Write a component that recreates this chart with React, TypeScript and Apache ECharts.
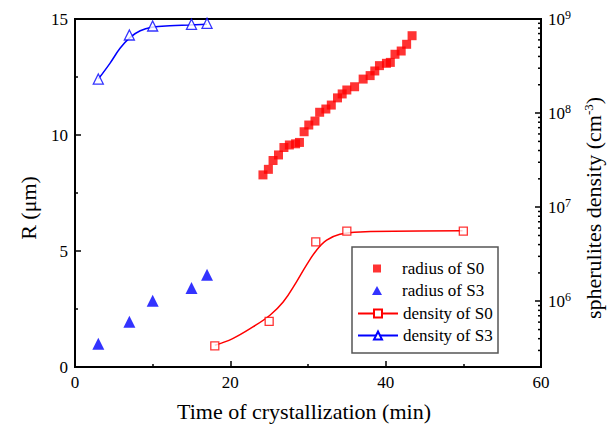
import React, { useEffect, useRef } from "react";
import * as echarts from "echarts";

// radius of S0 (left axis, μm)
const s0RadiusTime = [24.2, 24.9, 25.5, 26.2, 26.9, 27.6, 28.4, 28.9, 29.5, 30.1, 30.9, 31.5, 32.3, 33.0, 33.8, 34.4, 35.0, 36.0, 37.1, 38.0, 38.6, 39.2, 40.1, 40.6, 41.2, 42.0, 42.7, 43.4];
const s0Radius = [8.28, 8.52, 8.9, 9.14, 9.46, 9.57, 9.62, 9.68, 10.14, 10.43, 10.6, 10.98, 11.12, 11.29, 11.6, 11.77, 11.94, 12.08, 12.41, 12.56, 12.76, 12.99, 13.09, 13.13, 13.48, 13.62, 13.91, 14.28];

// radius of S3
const s3RadiusTime = [3, 7, 10, 15, 17];
const s3Radius = [1.0, 1.95, 2.86, 3.4, 3.98];

// density of S0 (right axis, cm^-3)
const s0DensityTime = [18, 25, 31, 35, 50];
const s0Density = [3.35e5, 6.1e5, 4.27e6, 5.56e6, 5.56e6];
const s0FitTime = [18, 20.3, 22.9, 25.1, 26.8, 28.5, 29.8, 31.1, 32.4, 34.1, 36.7, 49.9];
const s0Fit = [3.4e5, 4.01e5, 5.33e5, 7.1e5, 9.8e5, 1.6e6, 2.42e6, 3.49e6, 4.46e6, 5.16e6, 5.46e6, 5.6e6];

// density of S3
const s3DensityTime = [3, 7, 10, 15, 17];
const s3Density = [2.3e8, 6.76e8, 8.43e8, 8.78e8, 9.0e8];
const s3FitTime = [3, 4.5, 5.8, 7.1, 8.4, 9.9, 12.2, 14.8, 17];
const s3Fit = [2.3e8, 3.38e8, 4.88e8, 6.38e8, 7.5e8, 8.16e8, 8.49e8, 8.63e8, 8.78e8];

// axes
const X_MIN = 0;
const X_MAX = 60;
const X_INTERVAL = 20;
const R_MIN = 0;
const R_MAX = 15;
const R_INTERVAL = 5;
const D_MIN = 2e5;
const D_MAX = 1e9;
const minorMultipliers = [2, 3, 4, 5, 6, 7, 8, 9];
const minorDecades = [1e5, 1e6, 1e7, 1e8];

const FONT = "'Liberation Serif', 'Times New Roman', serif";

const zip = (xs: number[], ys: number[]) => xs.map((x, i) => [x, ys[i]]);

export default function App() {
  const ref = useRef<HTMLDivElement>(null);
  useEffect(() => {
    document.body.style.margin = "0";
    const chart = echarts.init(ref.current!, undefined, { renderer: "svg" });
    const minorTicks: number[][] = [];
    minorDecades.forEach((d) =>
      minorMultipliers.forEach((m) => {
        const v = m * d;
        if (v > D_MIN && v < D_MAX) minorTicks.push([X_MAX, v]);
      })
    );
    const axisCommon = {
      axisLine: { lineStyle: { color: "#000", width: 2 } },
      axisTick: { inside: true, length: 6, lineStyle: { color: "#000", width: 1.5 } },
      minorTick: { show: true, splitNumber: 2, length: 3, lineStyle: { color: "#000", width: 1.5 } },
      splitLine: { show: false },
      axisLabel: { color: "#000", fontFamily: FONT, fontSize: 17 },
      nameTextStyle: { color: "#000", fontFamily: FONT, fontSize: 22 },
    };
    chart.setOption({
      animation: false,
      backgroundColor: "#fff",
      textStyle: { fontFamily: FONT, color: "#000" },
      grid: {
        left: 75,
        right: 73,
        top: 19,
        bottom: 61,
        show: true,
        borderColor: "#000",
        borderWidth: 2,
        backgroundColor: "transparent",
      },
      xAxis: {
        type: "value",
        min: X_MIN,
        max: X_MAX,
        interval: X_INTERVAL,
        name: "Time of crystallization (min)",
        nameLocation: "middle",
        nameGap: 33,
        ...axisCommon,
        nameTextStyle: { ...axisCommon.nameTextStyle, padding: [0, 8, 0, 0] },
        axisLabel: { ...axisCommon.axisLabel, margin: 7 },
      },
      yAxis: [
        {
          type: "value",
          min: R_MIN,
          max: R_MAX,
          interval: R_INTERVAL,
          name: "R (μm)",
          nameLocation: "middle",
          nameGap: 36,
          nameRotate: 90,
          ...axisCommon,
          nameTextStyle: { ...axisCommon.nameTextStyle, padding: [0, 30, 0, 0] },
          axisLabel: { ...axisCommon.axisLabel, margin: 7 },
        },
        {
          type: "log",
          min: D_MIN,
          max: D_MAX,
          logBase: 10,
          position: "right",
          name: "spherulites density (cm{sup|-3})",
          nameLocation: "middle",
          nameGap: 40,
          nameRotate: 90,
          ...axisCommon,
          minorTick: { show: false },
          nameTextStyle: {
            ...axisCommon.nameTextStyle,
            padding: [0, 30, 0, 0],
            rich: { sup: { fontFamily: FONT, fontSize: 13, color: "#000", verticalAlign: "top", padding: [0, 0, 10, 0] } },
          },
          axisLabel: {
            ...axisCommon.axisLabel,
            margin: 7,
            formatter: (v: number) => {
              const e = Math.log10(v);
              const r = Math.round(e);
              if (Math.abs(e - r) > 1e-6) return "";
              return `10{sup|${r}}`;
            },
            rich: { sup: { fontFamily: FONT, fontSize: 12, color: "#000", verticalAlign: "top", padding: [0, 0, 9, 0] } },
          },
        },
      ],
      graphic: [
        {
          type: "rect",
          z: 3,
          shape: { x: 352, y: 247, width: 146, height: 106 },
          style: { fill: "#fff", stroke: "#555", lineWidth: 1.5 },
        },
      ],
      legend: [
        {
          data: ["radius of S0"],
          left: 373,
          top: 260,
          padding: 0,
          itemWidth: 8,
          itemHeight: 8,
          z: 5,
          textStyle: { color: "#000", fontFamily: FONT, fontSize: 17, lineHeight: 16, padding: [0, 0, 0, 16] },
        },
        {
          data: ["radius of S3"],
          left: 372,
          top: 282,
          padding: 0,
          itemWidth: 10,
          itemHeight: 9,
          z: 5,
          textStyle: { color: "#000", fontFamily: FONT, fontSize: 17, lineHeight: 16, padding: [0, 0, 0, 15] },
        },
        {
          data: ["density of S0", "density of S3"],
          orient: "vertical",
          left: 357,
          top: 305,
          padding: 0,
          itemWidth: 40,
          itemHeight: 10,
          itemGap: 5,
          z: 5,
          textStyle: { color: "#000", fontFamily: FONT, fontSize: 17, lineHeight: 16 },
        },
      ],
      series: [
        {
          name: "radius of S0",
          type: "scatter",
          yAxisIndex: 0,
          symbol: "rect",
          symbolSize: 9,
          itemStyle: { color: "#ff0000" },
          data: zip(s0RadiusTime, s0Radius),
        },
        {
          name: "radius of S3",
          type: "scatter",
          yAxisIndex: 0,
          symbol: "triangle",
          symbolSize: 12,
          itemStyle: { color: "#0000ff" },
          data: zip(s3RadiusTime, s3Radius),
        },
        {
          name: "density of S0",
          type: "line",
          yAxisIndex: 1,
          smooth: 0.4,
          showSymbol: false,
          symbol: "emptyRect",
          itemStyle: { color: "#ff0000" },
          lineStyle: { color: "#ff0000", width: 1.5 },
          data: zip(s0FitTime, s0Fit),
        },
        {
          name: "density of S3",
          type: "line",
          yAxisIndex: 1,
          smooth: 0.4,
          showSymbol: false,
          symbol: "emptyTriangle",
          itemStyle: { color: "#0000ff" },
          lineStyle: { color: "#0000ff", width: 1.5 },
          data: zip(s3FitTime, s3Fit),
        },
        {
          name: "density of S0",
          type: "scatter",
          yAxisIndex: 1,
          symbol: "rect",
          symbolSize: 8,
          z: 3,
          itemStyle: { color: "#fff", borderColor: "#ff0000", borderWidth: 1.3 },
          data: zip(s0DensityTime, s0Density),
        },
        {
          name: "density of S3",
          type: "scatter",
          yAxisIndex: 1,
          symbol: "triangle",
          symbolSize: 10,
          z: 3,
          itemStyle: { color: "#fff", borderColor: "#0000ff", borderWidth: 1.3 },
          data: zip(s3DensityTime, s3Density),
        },
        {
          name: "_minorLog",
          type: "custom",
          yAxisIndex: 1,
          silent: true,
          renderItem: (params: any, api: any) => {
            const p = api.coord([api.value(0), api.value(1)]);
            return {
              type: "line",
              shape: { x1: p[0] - 3, y1: p[1], x2: p[0], y2: p[1] },
              style: { stroke: "#000", lineWidth: 1.5 },
            };
          },
          data: minorTicks,
        },
      ],
    });
    return () => chart.dispose();
  }, []);
  return <div ref={ref} style={{ width: 614, height: 428, position: "absolute", left: 0, top: 0 }} />;
}
